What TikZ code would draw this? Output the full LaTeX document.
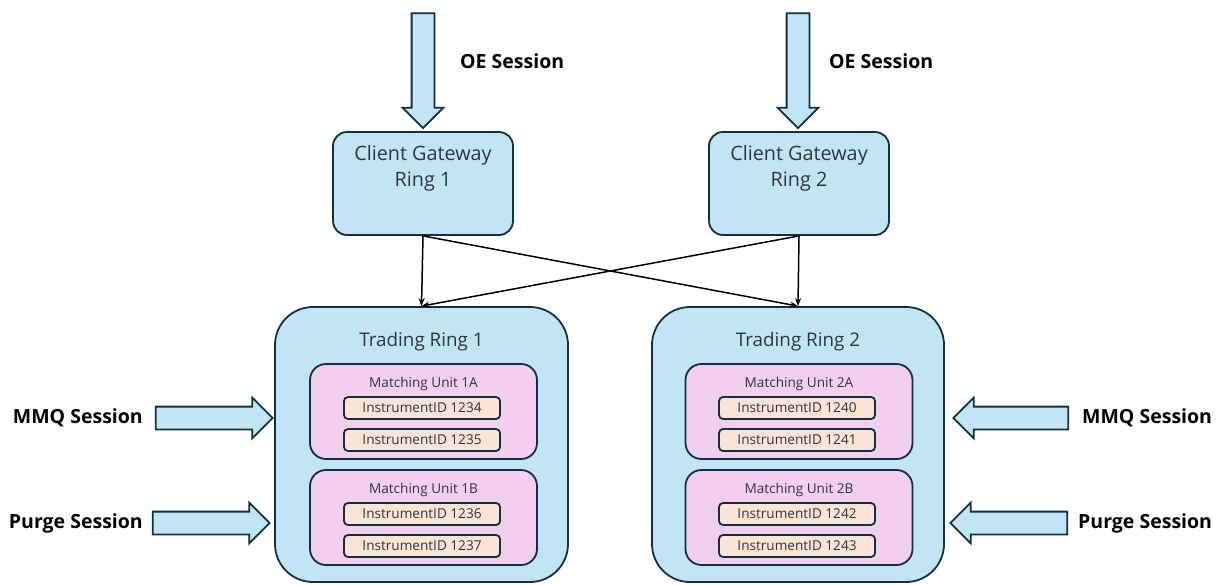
\documentclass[tikz,border=0pt]{standalone}
\usepackage{fontspec}
\setmainfont{Open Sans}
\usepackage{xcolor}
\usetikzlibrary{shapes.arrows,arrows.meta}

\definecolor{ringblue}{HTML}{C1E5F5}
\definecolor{unitpink}{HTML}{F2CFEE}
\definecolor{instpeach}{HTML}{FBE3D6}
\definecolor{edgedark}{HTML}{12303F}
\definecolor{textdark}{HTML}{2E3640}

\begin{document}
\begin{tikzpicture}[x=1pt,y=-1pt,>={Stealth[length=8pt,width=6pt]},
    gate/.style={draw=edgedark,line width=1.8pt,fill=ringblue,rounded corners=14pt,minimum width=180pt,minimum height=103pt},
    ring/.style={draw=edgedark,line width=1.8pt,fill=ringblue,rounded corners=38pt,minimum height=275pt},
    unit/.style={draw=edgedark,line width=1.8pt,fill=unitpink,rounded corners=16pt,minimum width=227pt,minimum height=95pt},
    inst/.style={draw=edgedark,line width=1.8pt,fill=instpeach,rounded corners=4pt,minimum width=156pt,minimum height=22pt,inner sep=0pt,text=textdark,font=\fontsize{13.6}{15}\selectfont},
    flow/.style={single arrow,draw=edgedark,line width=1.8pt,fill=ringblue,inner sep=10.5pt,minimum width=40pt,single arrow head extend=9pt},
    session/.style={font=\fontsize{19.5}{22}\selectfont\bfseries,text=black,inner sep=0pt},
    title/.style={text=textdark,font=\fontsize{18.8}{26}\selectfont,align=center,inner sep=0pt},
    subtitle/.style={text=textdark,font=\fontsize{13.6}{15}\selectfont,inner sep=0pt}]

    \useasboundingbox (0,0) rectangle (1217,584);

    \node[gate,label={[title,font=\fontsize{19.8}{26}\selectfont,anchor=north,yshift=-14pt]north:Client Gateway\\Ring 1}] (cg1) at (423,183.5) {};
    \node[gate,label={[title,font=\fontsize{19.8}{26}\selectfont,anchor=north,yshift=-14pt]north:Client Gateway\\Ring 2}] (cg2) at (799,183.5) {};

    \node[ring,minimum width=293pt,label={[title,anchor=base,yshift=-40pt]north:Trading Ring 1}] (tr1) at (421.5,444.5) {};
    \node[ring,minimum width=292pt,label={[title,anchor=base,yshift=-40pt]north:Trading Ring 2}] (tr2) at (798,444.5) {};

    \node[unit,label={[subtitle,anchor=base,yshift=-24pt]north:Matching Unit 1A}] (mu1a) at (423.5,411.5) {};
    \node[unit,label={[subtitle,anchor=base,yshift=-24pt]north:Matching Unit 1B}] (mu1b) at (423.5,517.5) {};
    \node[unit,label={[subtitle,anchor=base,yshift=-24pt]north:Matching Unit 2A}] (mu2a) at (799,411.5) {};
    \node[unit,label={[subtitle,anchor=base,yshift=-24pt]north:Matching Unit 2B}] (mu2b) at (799,517.5) {};

    \node[inst] (i1234) at (422,408) {InstrumentID 1234};
    \node[inst] (i1235) at (422,440) {InstrumentID 1235};
    \node[inst] (i1236) at (422,514) {InstrumentID 1236};
    \node[inst] (i1237) at (422,546) {InstrumentID 1237};
    \node[inst] (i1240) at (797,408) {InstrumentID 1240};
    \node[inst] (i1241) at (797,440) {InstrumentID 1241};
    \node[inst] (i1242) at (797,514) {InstrumentID 1242};
    \node[inst] (i1243) at (797,546) {InstrumentID 1243};

    % session feeds
    \node[flow,minimum height=115pt,shape border rotate=270] (oe1) at (423,65) {};
    \node[flow,minimum height=115pt,shape border rotate=270] (oe2) at (798,65) {};
    \node[flow,minimum height=117pt] (mmq1) at (208.5,418) {};
    \node[flow,minimum height=117pt] (pg1) at (205.5,523) {};
    \node[flow,minimum height=115pt,shape border rotate=180] (mmq2) at (1016.5,418) {};
    \node[flow,minimum height=117pt,shape border rotate=180] (pg2) at (1014.5,523) {};

    \node[session,anchor=west] (oe1t) at (460,61) {OE Session};
    \node[session,anchor=west] (oe2t) at (829,61) {OE Session};
    \node[session,anchor=east] (mmq1t) at (143,418) {MMQ Session};
    \node[session,anchor=east] (pg1t) at (143,523) {Purge Session};
    \node[session,anchor=west] (mmq2t) at (1082,418) {MMQ Session};
    \node[session,anchor=west] (pg2t) at (1078,523) {Purge Session};

    \draw[->,line width=1.5pt] (cg1.south) -- (tr1.north);
    \draw[->,line width=1.5pt] (cg1.south) -- (tr2.north);
    \draw[->,line width=1.5pt] (cg2.south) -- (tr1.north);
    \draw[->,line width=1.5pt] (cg2.south) -- (tr2.north);

\end{tikzpicture}
\end{document}
